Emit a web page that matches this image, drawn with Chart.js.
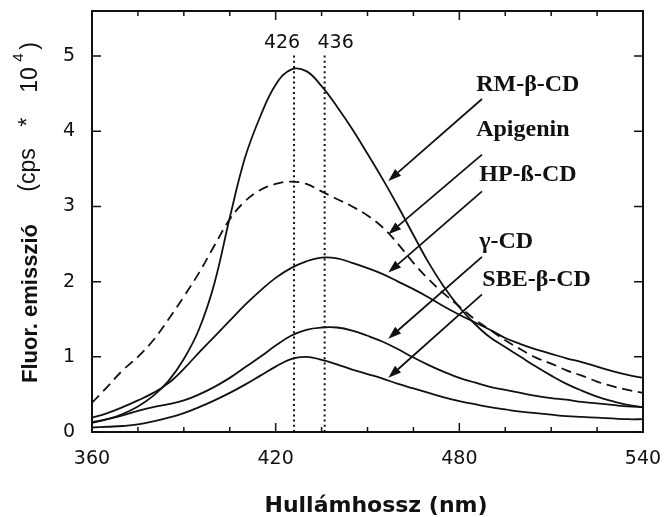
<!DOCTYPE html>
<html>
<head>
<meta charset="utf-8">
<script src="https://cdn.jsdelivr.net/npm/chart.js"></script>
<style>
  body { margin: 0; background: #fff; }
  #wrap { width: 665px; height: 517px; position: relative; }
</style>
</head>
<body>
<div id="wrap"><canvas id="myChart"></canvas></div>
<script>
// wavelength grid (nm)
const wavelengths = [360,365,370,375,380,385,390,395,400,405,410,415,420,425,430,435,440,445,450,455,460,465,470,475,480,485,490,495,500,505,510,515,520,525,530,535,540];

// fluorescence emission (cps * 10^4)
const rmBetaCD = [0.13,0.17,0.24,0.34,0.48,0.68,0.97,1.37,1.98,2.85,3.65,4.2,4.62,4.82,4.8,4.6,4.33,4.03,3.7,3.36,3.0,2.62,2.25,1.93,1.66,1.44,1.26,1.13,1.0,0.87,0.75,0.64,0.55,0.47,0.41,0.36,0.33];
const apigenin = [0.39,0.6,0.82,1.0,1.22,1.5,1.8,2.12,2.48,2.83,3.07,3.22,3.3,3.33,3.3,3.2,3.1,3.0,2.88,2.72,2.5,2.25,2.03,1.84,1.67,1.5,1.36,1.22,1.1,0.99,0.91,0.82,0.75,0.67,0.61,0.56,0.52];
const hpBetaCD = [0.19,0.25,0.33,0.42,0.52,0.65,0.84,1.06,1.27,1.48,1.69,1.88,2.05,2.18,2.27,2.32,2.31,2.25,2.18,2.1,2.0,1.9,1.79,1.67,1.56,1.46,1.36,1.25,1.17,1.1,1.04,0.98,0.93,0.87,0.81,0.76,0.72];
const gammaCD = [0.12,0.17,0.22,0.28,0.33,0.37,0.42,0.5,0.6,0.72,0.86,1.0,1.15,1.28,1.36,1.39,1.39,1.35,1.28,1.2,1.1,0.99,0.89,0.8,0.72,0.66,0.6,0.56,0.52,0.48,0.45,0.43,0.4,0.38,0.36,0.34,0.33];
const sbeBetaCD = [0.06,0.07,0.08,0.1,0.14,0.19,0.25,0.33,0.42,0.52,0.63,0.75,0.87,0.97,1.0,0.96,0.9,0.83,0.77,0.71,0.64,0.58,0.52,0.46,0.41,0.37,0.33,0.3,0.27,0.25,0.23,0.21,0.2,0.19,0.18,0.17,0.17];

// peak markers
const peakLines = [426, 436];
const peakLineTop = 5.03;

// tick labels
const xTickLabels = [360, 420, 480, 540];
const yTickLabels = [0, 1, 2, 3, 4, 5];

// annotations: label text, label anchor, arrow start and arrow tip (data units)
const seriesNames = ["RM-β-CD", "Apigenin", "HP-ß-CD", "γ-CD", "SBE-β-CD"];
const labelX = [485.5, 485.5, 486.5, 486.5, 487.5];
const labelY = [4.62, 4.02, 3.42, 2.53, 2.02];
const arrowFromX = 487.4;
const arrowFromY = [4.43, 3.69, 3.2, 2.33, 1.83];
const arrowToX = 456.8;
const arrowToY = [3.34, 2.63, 2.12, 1.24, 0.72];

const ink = '#111';

function pts(ys) {
  return wavelengths.map((w, i) => ({x: w, y: ys[i]}));
}

function curve(ys, dash) {
  return {
    data: pts(ys),
    borderColor: ink,
    borderWidth: 1.8,
    borderDash: dash || [],
    pointRadius: 0,
    tension: 0.4,
    fill: false
  };
}

const datasets = [
  curve(rmBetaCD),
  curve(apigenin, [10, 6]),
  curve(hpBetaCD),
  curve(gammaCD),
  curve(sbeBetaCD)
];
peakLines.forEach(w => {
  datasets.push({
    data: [{x: w, y: 0}, {x: w, y: peakLineTop}],
    borderColor: ink,
    borderWidth: 2,
    borderDash: [2, 3.2],
    pointRadius: 0,
    fill: false
  });
});

const overlay = {
  id: 'overlay',
  afterDatasetsDraw(chart) {
    const {ctx, chartArea: a, scales: {x, y}} = chart;
    ctx.save();
    ctx.strokeStyle = ink;
    ctx.fillStyle = ink;

    // frame
    ctx.lineWidth = 2;
    ctx.strokeRect(a.left, a.top, a.right - a.left, a.bottom - a.top);

    // inward ticks
    ctx.lineWidth = 1.5;
    ctx.beginPath();
    x.ticks.forEach(t => {
      const px = x.getPixelForValue(t.value);
      const len = xTickLabels.includes(t.value) ? 9 : 5;
      ctx.moveTo(px, a.bottom); ctx.lineTo(px, a.bottom - len);
      ctx.moveTo(px, a.top); ctx.lineTo(px, a.top + len);
    });
    yTickLabels.forEach(v => {
      const py = y.getPixelForValue(v);
      ctx.moveTo(a.left, py); ctx.lineTo(a.left + 9, py);
      ctx.moveTo(a.right, py); ctx.lineTo(a.right - 9, py);
    });
    ctx.stroke();

    // peak labels
    ctx.font = '19px "DejaVu Sans"';
    ctx.textAlign = 'center';
    ctx.textBaseline = 'alphabetic';
    const ly = y.getPixelForValue(peakLineTop) - 6;
    ctx.fillText(String(peakLines[0]), x.getPixelForValue(peakLines[0]) - 12, ly);
    ctx.fillText(String(peakLines[1]), x.getPixelForValue(peakLines[1]) + 11, ly);

    // arrows
    ctx.lineWidth = 1.8;
    arrowFromY.forEach((fy, i) => {
      const x0 = x.getPixelForValue(arrowFromX), y0 = y.getPixelForValue(fy);
      const x1 = x.getPixelForValue(arrowToX), y1 = y.getPixelForValue(arrowToY[i]);
      const ang = Math.atan2(y1 - y0, x1 - x0);
      const hl = 13, hw = 4.5;
      const bx = x1 - hl * Math.cos(ang), by = y1 - hl * Math.sin(ang);
      ctx.beginPath();
      ctx.moveTo(x0, y0); ctx.lineTo(bx, by);
      ctx.stroke();
      ctx.beginPath();
      ctx.moveTo(x1, y1);
      ctx.lineTo(bx + hw * Math.sin(ang), by - hw * Math.cos(ang));
      ctx.lineTo(bx - hw * Math.sin(ang), by + hw * Math.cos(ang));
      ctx.closePath();
      ctx.fill();
    });

    // series labels
    ctx.font = 'bold 24px "Liberation Serif"';
    ctx.textAlign = 'left';
    ctx.textBaseline = 'middle';
    seriesNames.forEach((s, i) => {
      ctx.fillText(s, x.getPixelForValue(labelX[i]), y.getPixelForValue(labelY[i]));
    });

    // x axis title
    ctx.font = 'bold 22px "DejaVu Sans"';
    ctx.textAlign = 'center';
    ctx.textBaseline = 'alphabetic';
    ctx.fillText('Hullámhossz (nm)', 376, 512);

    // y axis title
    const rot = (txt, font, cx, cy) => {
      ctx.save();
      ctx.translate(cx, cy);
      ctx.rotate(-Math.PI / 2);
      ctx.font = font;
      ctx.fillText(txt, 0, 0);
      ctx.restore();
    };
    rot('Fluor. emisszió', 'bold 22px "Liberation Sans"', 37, 303.5);
    rot('(cps', '23px "Liberation Sans"', 35, 170);
    rot('*', '23px "Liberation Sans"', 35, 122);
    rot('10', '23px "Liberation Sans"', 37, 80);
    rot('4', '15px "Liberation Sans"', 23, 57.5);
    rot(')', '23px "Liberation Sans"', 37, 46);

    ctx.restore();
  }
};

new Chart(document.getElementById('myChart').getContext('2d'), {
  type: 'line',
  data: { datasets: datasets },
  options: {
    responsive: true,
    maintainAspectRatio: false,
    animation: false,
    layout: { padding: { top: 11, right: 22, left: 0, bottom: 0 } },
    plugins: {
      legend: { display: false },
      tooltip: { enabled: false }
    },
    scales: {
      x: {
        type: 'linear',
        min: 360,
        max: 540,
        grid: { display: false, drawTicks: false },
        border: { display: false },
        ticks: {
          stepSize: 15,
          autoSkip: false,
          maxRotation: 0,
          padding: 16,
          color: ink,
          font: { family: 'DejaVu Sans', size: 19 },
          callback: v => xTickLabels.includes(v) ? String(v) : ''
        },
        afterFit: s => { s.height = 85; s.paddingLeft = 0; s.paddingRight = 0; }
      },
      y: {
        min: 0,
        max: 5.6,
        grid: { display: false, drawTicks: false },
        border: { display: false },
        ticks: {
          stepSize: 1,
          padding: 17,
          color: ink,
          font: { family: 'DejaVu Sans', size: 19 },
          callback: v => yTickLabels.includes(v) ? String(v) : ''
        },
        afterFit: s => { s.width = 92; s.paddingTop = 0; s.paddingBottom = 0; }
      }
    }
  },
  plugins: [overlay]
});
</script>
</body>
</html>
